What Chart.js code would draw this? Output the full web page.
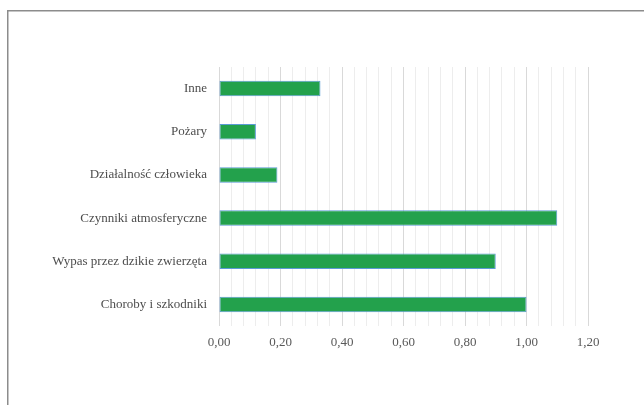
<!DOCTYPE html>
<html>
<head>
<meta charset="utf-8">
<script src="https://cdn.jsdelivr.net/npm/chart.js@4/dist/chart.umd.min.js"></script>
<style>
  html, body { margin: 0; padding: 0; background: #ffffff; }
  #wrap { position: relative; width: 644px; height: 405px; }
</style>
</head>
<body>
<div id="wrap"><canvas id="c" width="644" height="405"></canvas></div>
<script>
// Przyczyny szkód
const categories = [
  'Inne',
  'Pożary',
  'Działalność człowieka',
  'Czynniki atmosferyczne',
  'Wypas przez dzikie zwierzęta',
  'Choroby i szkodniki'
];
const values = [0.33, 0.12, 0.19, 1.10, 0.90, 1.00];
const axisMax = 1.2;
const labelStep = 0.2;   // labelled, darker grid lines
const gridStep = 0.04;   // light minor grid lines

const isMajor = v => Math.abs(v / labelStep - Math.round(v / labelStep)) < 1e-6;

// Frame around the figure (only its top and left edges fall inside the page)
const framePlugin = {
  id: 'frame',
  beforeDraw(chart) {
    const ctx = chart.ctx;
    ctx.save();
    ctx.fillStyle = '#ffffff';
    ctx.fillRect(0, 0, chart.width, chart.height);
    ctx.strokeStyle = '#8c8c8c';
    ctx.lineWidth = 1.5;
    ctx.beginPath();
    ctx.moveTo(7.75, chart.height);
    ctx.lineTo(7.75, 10.75);
    ctx.lineTo(chart.width, 10.75);
    ctx.stroke();
    ctx.restore();
  }
};

new Chart(document.getElementById('c'), {
  type: 'bar',
  data: {
    labels: categories,
    datasets: [{
      data: values,
      backgroundColor: '#23a14c',
      borderColor: '#5b9bd5',
      borderWidth: 1,
      borderSkipped: false,
      categoryPercentage: 1,
      barPercentage: 0.36
    }]
  },
  options: {
    indexAxis: 'y',
    responsive: false,
    animation: false,
    layout: { padding: { top: 67, right: 56, bottom: 48, left: 0 } },
    plugins: { legend: { display: false }, tooltip: { enabled: false } },
    scales: {
      x: {
        min: 0,
        max: axisMax,
        afterFit(scale) { scale.height = 31; },
        border: { display: false },
        grid: {
          drawTicks: false,
          color: ctx => isMajor(ctx.tick.value) ? '#d9d9d9' : '#ededed',
          lineWidth: 1
        },
        ticks: {
          stepSize: gridStep,
          autoSkip: false,
          maxRotation: 0,
          padding: 9,
          color: '#595959',
          font: { family: '"Liberation Serif", "Times New Roman", serif', size: 13 },
          callback: v => isMajor(v) ? v.toFixed(2).replace('.', ',') : ''
        }
      },
      y: {
        afterFit(scale) { scale.width = 219; },
        border: { display: false },
        grid: { display: false, drawTicks: false },
        ticks: {
          padding: 12,
          color: '#4d4d4d',
          font: { family: '"Liberation Serif", "Times New Roman", serif', size: 13 }
        }
      }
    }
  },
  plugins: [framePlugin]
});
</script>
</body>
</html>
